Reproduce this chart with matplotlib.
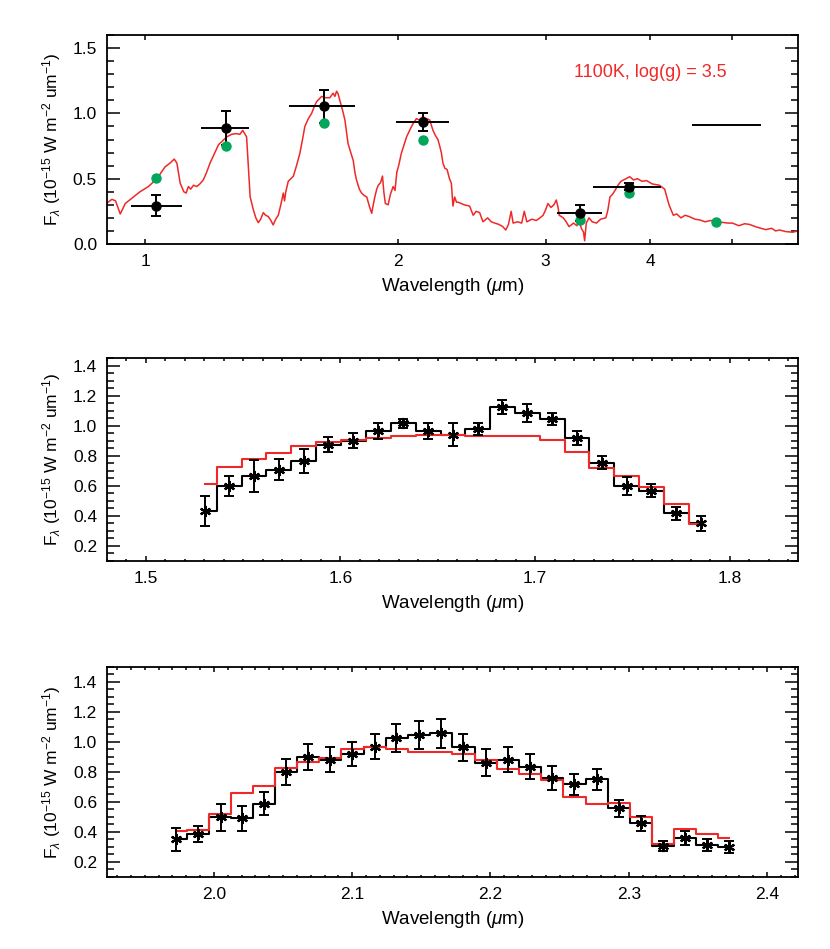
import numpy as np
import matplotlib
matplotlib.use("Agg")
import matplotlib.pyplot as plt
from matplotlib.ticker import MultipleLocator, FixedLocator, FixedFormatter, FormatStrFormatter

plt.rcParams['font.family'] = ['Liberation Sans', 'DejaVu Sans']
plt.rcParams['mathtext.fontset'] = 'custom'
plt.rcParams['mathtext.rm'] = 'Liberation Sans'
plt.rcParams['mathtext.it'] = 'Liberation Sans:italic'

RED = '#f02828'
GREEN = '#00a65a'

# ---- top panel: model spectrum (1100K, log g = 3.5) ----
model_wl = [0.900, 0.913, 0.922, 0.934, 0.947, 0.964, 0.986, 1.009, 1.033, 1.056, 1.071, 1.083,
            1.091, 1.101, 1.112, 1.119, 1.126, 1.133, 1.142, 1.152, 1.162, 1.173, 1.184, 1.195,
            1.209, 1.223, 1.237, 1.251, 1.268, 1.283, 1.297, 1.307, 1.321, 1.334, 1.346, 1.355,
            1.364, 1.373, 1.383, 1.392, 1.402, 1.412, 1.421, 1.431, 1.441, 1.451, 1.461, 1.466,
            1.471, 1.481, 1.492, 1.502, 1.515, 1.529, 1.540, 1.550, 1.565, 1.579, 1.590, 1.601,
            1.612, 1.623, 1.640, 1.660, 1.675, 1.683, 1.691, 1.698, 1.706, 1.718, 1.730, 1.745,
            1.758, 1.770, 1.778, 1.786, 1.800, 1.811, 1.825, 1.837, 1.850, 1.862, 1.870, 1.878,
            1.888, 1.896, 1.908, 1.918, 1.925, 1.933, 1.948, 1.960, 1.975, 1.985, 1.995, 2.005,
            2.020, 2.035, 2.049, 2.063, 2.077, 2.090, 2.105, 2.120, 2.143, 2.163, 2.183, 2.193,
            2.203, 2.218, 2.233, 2.245, 2.254, 2.264, 2.276, 2.290, 2.305, 2.317, 2.327, 2.338,
            2.350, 2.360, 2.380, 2.400, 2.436, 2.460, 2.480, 2.504, 2.527, 2.560, 2.585, 2.610,
            2.640, 2.668, 2.690, 2.710, 2.730, 2.745, 2.780, 2.810, 2.830, 2.850, 2.890, 2.925,
            2.955, 2.980, 3.000, 3.020, 3.045, 3.070, 3.090, 3.105, 3.115, 3.150, 3.175, 3.200,
            3.240, 3.270, 3.290, 3.310, 3.330, 3.340, 3.355, 3.380, 3.410, 3.450, 3.490, 3.540,
            3.560, 3.580, 3.605, 3.630, 3.660, 3.690, 3.740, 3.780, 3.820, 3.860, 3.910, 3.960,
            4.020, 4.100, 4.160, 4.210, 4.260, 4.300, 4.350, 4.400, 4.450, 4.520, 4.580, 4.650,
            4.720, 4.790, 4.880, 4.950, 5.010, 5.100, 5.180, 5.250, 5.350, 5.420, 5.490, 5.580,
            5.640, 5.700, 5.800, 5.910, 6.000]
model_flux = [0.312, 0.342, 0.330, 0.230, 0.310, 0.350, 0.400, 0.440, 0.500, 0.590, 0.620, 0.650,
              0.620, 0.465, 0.400, 0.390, 0.440, 0.420, 0.450, 0.440, 0.460, 0.490, 0.550, 0.620,
              0.690, 0.760, 0.790, 0.820, 0.840, 0.845, 0.840, 0.870, 0.820, 0.360, 0.260, 0.200,
              0.163, 0.190, 0.240, 0.220, 0.210, 0.180, 0.146, 0.190, 0.220, 0.300, 0.390, 0.330,
              0.400, 0.480, 0.500, 0.520, 0.600, 0.695, 0.800, 0.900, 0.960, 1.000, 1.050, 1.090,
              1.110, 1.130, 1.120, 1.120, 1.155, 1.130, 1.170, 1.150, 1.100, 1.030, 0.950, 0.770,
              0.700, 0.640, 0.550, 0.490, 0.420, 0.390, 0.370, 0.360, 0.290, 0.235, 0.300, 0.360,
              0.420, 0.450, 0.470, 0.520, 0.400, 0.310, 0.300, 0.380, 0.440, 0.410, 0.550, 0.600,
              0.695, 0.760, 0.820, 0.860, 0.900, 0.930, 0.960, 0.950, 0.975, 0.960, 0.950, 0.910,
              0.870, 0.830, 0.800, 0.745, 0.700, 0.620, 0.580, 0.570, 0.500, 0.465, 0.290, 0.360,
              0.320, 0.320, 0.310, 0.300, 0.290, 0.220, 0.250, 0.240, 0.170, 0.200, 0.170, 0.160,
              0.150, 0.133, 0.107, 0.150, 0.250, 0.160, 0.170, 0.160, 0.250, 0.170, 0.190, 0.180,
              0.200, 0.220, 0.260, 0.310, 0.280, 0.300, 0.337, 0.280, 0.220, 0.200, 0.170, 0.133,
              0.160, 0.140, 0.175, 0.120, 0.090, 0.025, 0.160, 0.200, 0.170, 0.160, 0.190, 0.200,
              0.260, 0.360, 0.380, 0.410, 0.450, 0.480, 0.500, 0.515, 0.490, 0.500, 0.480, 0.485,
              0.460, 0.450, 0.420, 0.300, 0.220, 0.230, 0.200, 0.220, 0.210, 0.190, 0.184, 0.170,
              0.180, 0.170, 0.165, 0.160, 0.160, 0.140, 0.155, 0.150, 0.130, 0.120, 0.110, 0.120,
              0.100, 0.107, 0.095, 0.090, 0.100]

# photometry (black) with filter widths, and model synthetic photometry (green)
phot_wl = [1.031, 1.248, 1.635, 2.144, 3.30, 3.77]
phot_flux = [0.293, 0.886, 1.055, 0.935, 0.235, 0.44]
phot_err = [0.08, 0.13, 0.125, 0.07, 0.06, 0.03]
filt_lo = [0.962, 1.165, 1.485, 1.991, 3.10, 3.42]
filt_hi = [1.106, 1.329, 1.779, 2.301, 3.50, 4.12]
synth_wl = [1.031, 1.248, 1.635, 2.144, 3.30, 3.77, 4.79]
synth_flux = [0.506, 0.748, 0.927, 0.797, 0.18, 0.393, 0.166]
mband_lo, mband_hi, mband_flux = 4.50, 5.40, 0.912

# ---- middle panel: H-band spectrum ----
h_wl = [1.5303, 1.5429, 1.5555, 1.5684, 1.5812, 1.5938, 1.6067, 1.6193, 1.6322, 1.6450, 1.6578,
        1.6704, 1.6831, 1.6959, 1.7087, 1.7214, 1.7342, 1.7470, 1.7597, 1.7725, 1.7853]
h_flux = [0.435, 0.600, 0.665, 0.707, 0.767, 0.875, 0.900, 0.967, 1.018, 0.965, 0.942,
          0.980, 1.129, 1.087, 1.044, 0.920, 0.755, 0.600, 0.569, 0.418, 0.351]
h_err = [0.100, 0.067, 0.107, 0.070, 0.080, 0.049, 0.050, 0.053, 0.030, 0.055, 0.075,
         0.042, 0.047, 0.062, 0.040, 0.044, 0.042, 0.061, 0.044, 0.044, 0.049]
h_model = [0.613, 0.729, 0.780, 0.820, 0.867, 0.891, 0.907, 0.922, 0.933, 0.938, 0.938,
           0.933, 0.936, 0.931, 0.909, 0.824, 0.720, 0.667, 0.596, 0.480, 0.349]

# ---- bottom panel: K-band spectrum ----
k_wl = [1.9726, 1.9882, 2.0048, 2.0202, 2.0361, 2.0522, 2.0681, 2.0843, 2.1002, 2.1163, 2.1319,
        2.1483, 2.1640, 2.1805, 2.1969, 2.2126, 2.2287, 2.2448, 2.2607, 2.2768, 2.2929, 2.3088,
        2.3247, 2.3408, 2.3567, 2.3726]
k_flux = [0.350, 0.388, 0.497, 0.490, 0.588, 0.799, 0.899, 0.881, 0.917, 0.968, 1.028,
          1.045, 1.057, 0.965, 0.861, 0.883, 0.835, 0.761, 0.717, 0.750, 0.557, 0.457,
          0.305, 0.361, 0.312, 0.299]
k_err = [0.077, 0.053, 0.089, 0.082, 0.076, 0.086, 0.086, 0.084, 0.080, 0.084, 0.094,
         0.092, 0.098, 0.089, 0.089, 0.086, 0.082, 0.078, 0.071, 0.071, 0.054, 0.048,
         0.033, 0.048, 0.039, 0.039]
k_model = [0.405, 0.412, 0.517, 0.661, 0.705, 0.825, 0.868, 0.892, 0.950, 0.968, 0.950,
           0.932, 0.932, 0.919, 0.879, 0.817, 0.788, 0.745, 0.635, 0.585, 0.595, 0.499,
           0.323, 0.417, 0.385, 0.361]

ylab = r'F$_{\lambda}$ (10$^{-15}$ W m$^{-2}$ um$^{-1}$)'
xlab = r'Wavelength ($\mu$m)'

fig = plt.figure(figsize=(8.30, 9.49), dpi=100)
left, width = 0.1286, 0.833
ax1 = fig.add_axes([left, 0.7429, width, 0.2202])
ax2 = fig.add_axes([left, 0.4089, width, 0.2134])
ax3 = fig.add_axes([left, 0.0759, width, 0.2213])


def style(ax):
    for s in ax.spines.values():
        s.set_linewidth(1.3)
    ax.tick_params(which='both', direction='in', top=True, right=True,
                   labelsize=12.5, width=1.1, pad=7)
    ax.tick_params(axis='y', which='major', length=9.5)
    ax.tick_params(axis='y', which='minor', length=5)
    ax.tick_params(axis='x', which='major', length=3.5)
    ax.tick_params(axis='x', which='minor', length=1.8)
    ax.set_xlabel(xlab, fontsize=13.5, labelpad=5)
    ax.set_ylabel(ylab, fontsize=12.5, labelpad=7)


# top
ax1.plot(model_wl, model_flux, color=RED, lw=1.1)
xerr = [np.array(phot_wl) - np.array(filt_lo), np.array(filt_hi) - np.array(phot_wl)]
ax1.errorbar(phot_wl, phot_flux, yerr=phot_err, fmt='none', ecolor='black',
             elinewidth=1.4, capsize=3.5, capthick=1.4)
ax1.errorbar(phot_wl, phot_flux, xerr=xerr, fmt='none', ecolor='black', elinewidth=1.4)
ax1.plot(synth_wl, synth_flux, 'o', color=GREEN, ms=6.5, zorder=5)
ax1.plot(phot_wl, phot_flux, 'o', color='black', ms=6.5, zorder=6)
ax1.plot([mband_lo, mband_hi], [mband_flux, mband_flux], color='black', lw=1.4)
ax1.text(4.0, 1.31, '1100K, log(g) = 3.5', color=RED, fontsize=13, ha='center', va='center')
ax1.set_xscale('log')
ax1.set_xlim(0.9, 6.0)
ax1.set_ylim(0.0, 1.6)
ax1.xaxis.set_major_locator(FixedLocator([1, 2, 3, 4, 5]))
ax1.xaxis.set_major_formatter(FixedFormatter(['1', '2', '3', '4', '']))
ax1.xaxis.set_minor_locator(FixedLocator([]))
ax1.yaxis.set_major_locator(MultipleLocator(0.5))
ax1.yaxis.set_minor_locator(MultipleLocator(0.1))
ax1.yaxis.set_major_formatter(FormatStrFormatter('%.1f'))
style(ax1)

# middle and bottom
for ax, wl, fl, er, mod, xlim, ylim in [
        (ax2, h_wl, h_flux, h_err, h_model, (1.48, 1.835), (0.1, 1.45)),
        (ax3, k_wl, k_flux, k_err, k_model, (1.9225, 2.4225), (0.1, 1.5))]:
    ax.plot(wl, fl, drawstyle='steps-mid', color='black', lw=1.5)
    ax.plot(wl, mod, drawstyle='steps-mid', color=RED, lw=1.5)
    ax.errorbar(wl, fl, yerr=er, fmt='none', ecolor='black', elinewidth=1.4,
                capsize=3.5, capthick=1.4)
    ax.plot(wl, fl, linestyle='none', marker=(6, 2, 0), color='black', ms=8, mew=1.6)
    ax.set_xlim(*xlim)
    ax.set_ylim(*ylim)
    ax.xaxis.set_major_locator(MultipleLocator(0.1))
    ax.xaxis.set_minor_locator(MultipleLocator(0.01))
    ax.xaxis.set_major_formatter(FormatStrFormatter('%.1f'))
    ax.yaxis.set_major_locator(FixedLocator([0.2, 0.4, 0.6, 0.8, 1.0, 1.2, 1.4]))
    ax.yaxis.set_minor_locator(MultipleLocator(0.05))
    ax.yaxis.set_major_formatter(FormatStrFormatter('%.1f'))
    style(ax)

fig.savefig('out.png', dpi=100)
